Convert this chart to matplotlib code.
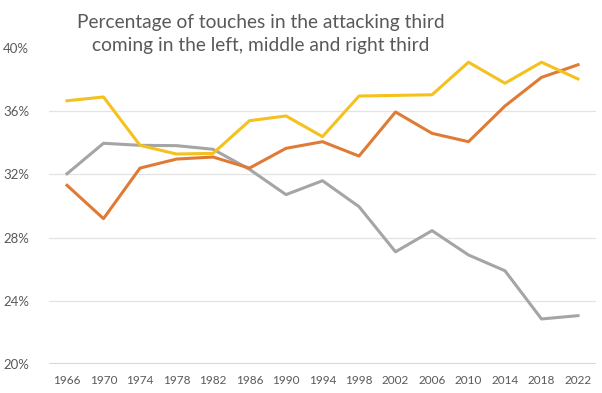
import matplotlib.pyplot as plt
import numpy as np

years = ['1966', '1970', '1974', '1978', '1982', '1986', '1990', '1994',
         '1998', '2002', '2006', '2010', '2014', '2018', '2022']

# share of attacking-third touches (%)
yellow = [36.66, 36.9, 33.84, 33.29, 33.33, 35.4, 35.7, 34.39,
          36.96, 37.0, 37.04, 39.1, 37.77, 39.1, 38.04]
orange = [31.31, 29.2, 32.4, 32.97, 33.1, 32.4, 33.65, 34.07,
          33.16, 35.95, 34.6, 34.07, 36.33, 38.14, 38.94]
gray = [32.04, 33.97, 33.84, 33.82, 33.59, 32.32, 30.72, 31.6,
        29.96, 27.1, 28.44, 26.9, 25.9, 22.85, 23.06]

yticks = [20, 24, 28, 32, 36, 40]

plt.rcParams['font.family'] = ['Lato', 'DejaVu Sans']

fig = plt.figure(figsize=(6.02, 3.93), dpi=100)
ax = fig.add_axes([48.75 / 602, 1 - 364 / 393, 547.5 / 602, (364 - 48) / 393])

x = np.arange(len(years))
ax.plot(x, gray, color='#A5A5A5', lw=2.2, zorder=3)
ax.plot(x, orange, color='#E07B35', lw=2.2, zorder=3)
ax.plot(x, yellow, color='#F4C11E', lw=2.2, zorder=3)

ax.set_xlim(-0.5, len(years) - 0.5)
ax.set_ylim(20, 40)
ax.set_xticks(x)
ax.set_xticklabels(years)
ax.set_yticks(yticks)
ax.set_yticklabels([f'{v}%' for v in yticks])
ax.tick_params(axis='x', length=0, labelsize=8.5, labelcolor='#595959', pad=8)
ax.tick_params(axis='y', length=0, labelsize=9.5, labelcolor='#595959', pad=14)

for v in yticks[1:-1]:
    ax.axhline(v, color='#E3E3E3', lw=0.9, zorder=1)
ax.axhline(20, color='#D9D9D9', lw=1.6, zorder=1)

for s in ax.spines.values():
    s.set_visible(False)

fig.text(261 / 602, 1 - 34 / 393, 'Percentage of touches in the attacking third\ncoming in the left, middle and right third',
         ha='center', va='center', fontsize=13.8, color='#595959', linespacing=1.45)

fig.savefig('out.png', dpi=100)
